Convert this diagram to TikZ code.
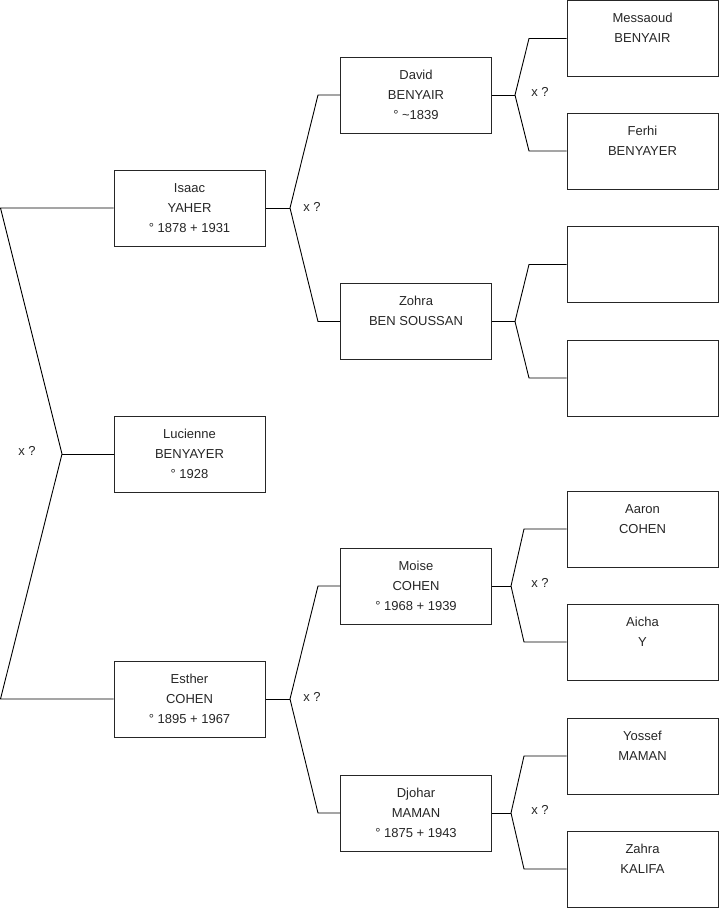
\documentclass[tikz,border=0pt]{standalone}
\usepackage{fontspec}
\setmainfont{Liberation Sans}
\begin{document}
\begin{tikzpicture}[x=1pt,y=-1pt,
  person/.style={draw=black!85, line width=1pt, minimum width=151pt, minimum height=76pt, inner sep=0pt, align=center, font=\fontsize{13}{20}\selectfont, text=black!85},
  link/.style={draw=black, line width=0.9pt},
  marr/.style={font=\fontsize{13}{14}\selectfont, text=black!85, inner sep=0pt}]
\useasboundingbox (0,0) rectangle (719,908);
% generation 1
\node[person] (isaac) at (189.5,208) {\strut Isaac\\\strut YAHER\\\strut ° 1878 + 1931};
\node[person] (lucienne) at (189.5,454) {\strut Lucienne\\\strut BENYAYER\\\strut ° 1928};
\node[person] (esther) at (189.5,699) {\strut Esther\\\strut COHEN\\\strut ° 1895 + 1967};
% generation 2
\node[person] (david) at (416,95) {\strut David\\\strut BENYAIR\\\strut ° \textasciitilde1839};
\node[person] (zohra) at (416,321.5) {\strut Zohra\\\strut BEN SOUSSAN\\\strut};
\node[person] (moise) at (416,586) {\strut Moise\\\strut COHEN\\\strut ° 1968 + 1939};
\node[person] (djohar) at (416,813) {\strut Djohar\\\strut MAMAN\\\strut ° 1875 + 1943};
% generation 3
\node[person] (messaoud) at (642.5,38.5) {\strut Messaoud\\\strut BENYAIR\\\strut};
\node[person] (ferhi) at (642.5,151) {\strut Ferhi\\\strut BENYAYER\\\strut};
\node[person] (e1) at (642.5,264.5) {};
\node[person] (e2) at (642.5,378) {};
\node[person] (aaron) at (642.5,529) {\strut Aaron\\\strut COHEN\\\strut};
\node[person] (aicha) at (642.5,642) {\strut Aicha\\\strut Y\\\strut};
\node[person] (yossef) at (642.5,756) {\strut Yossef\\\strut MAMAN\\\strut};
\node[person] (zahra) at (642.5,869) {\strut Zahra\\\strut KALIFA\\\strut};
% connectors
\coordinate (l1) at (0.5,208);
\coordinate (lv) at (62,454);
\coordinate (l2) at (0.5,699);
\draw[link] (isaac.west) -- (l1) -- (lv) -- (l2) -- (esther.west);
\draw[link] (lv) -- (lucienne.west);
\node[marr] (m0) at (27,451) {x ?};

\coordinate (av) at (290,208);
\coordinate (a1) at (318,95);
\coordinate (a2) at (318,321.5);
\draw[link] (isaac.east) -- (av);
\draw[link] (david.west) -- (a1) -- (av) -- (a2) -- (zohra.west);
\node[marr] (m1) at (312,207) {x ?};

\coordinate (bv) at (515,95);
\coordinate (b1) at (529,38.5);
\coordinate (b2) at (529,151);
\draw[link] (david.east) -- (bv);
\draw[link] (messaoud.west) -- (b1) -- (bv) -- (b2) -- (ferhi.west);
\node[marr] (m2) at (540,92) {x ?};

\coordinate (cv) at (515,321.5);
\coordinate (c1) at (529,264.5);
\coordinate (c2) at (529,378);
\draw[link] (zohra.east) -- (cv);
\draw[link] (e1.west) -- (c1) -- (cv) -- (c2) -- (e2.west);

\coordinate (dv) at (290,699);
\coordinate (d1) at (318,586);
\coordinate (d2) at (318,813);
\draw[link] (esther.east) -- (dv);
\draw[link] (moise.west) -- (d1) -- (dv) -- (d2) -- (djohar.west);
\node[marr] (m3) at (312,697) {x ?};

\coordinate (fv) at (511,586);
\coordinate (f1) at (524,529);
\coordinate (f2) at (524,642);
\draw[link] (moise.east) -- (fv);
\draw[link] (aaron.west) -- (f1) -- (fv) -- (f2) -- (aicha.west);
\node[marr] (m4) at (540,583) {x ?};

\coordinate (gv) at (511,813);
\coordinate (g1) at (524,756);
\coordinate (g2) at (524,869);
\draw[link] (djohar.east) -- (gv);
\draw[link] (yossef.west) -- (g1) -- (gv) -- (g2) -- (zahra.west);
\node[marr] (m5) at (540,810) {x ?};
\end{tikzpicture}
\end{document}
